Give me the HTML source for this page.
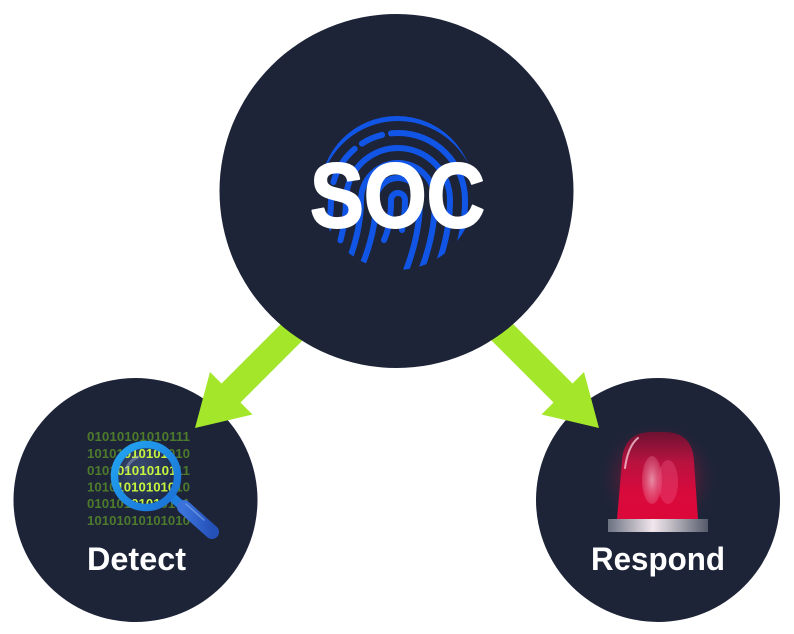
<!DOCTYPE html>
<html><head><meta charset="utf-8">
<style>
html,body{margin:0;padding:0;background:#fff;}
svg{display:block;}
</style></head>
<body>
<svg width="794" height="634" viewBox="0 0 794 634" xmlns="http://www.w3.org/2000/svg">
<defs>
  <clipPath id="fpclip"><circle cx="397" cy="193" r="77"/></clipPath>
  <clipPath id="lensclip"><circle cx="146" cy="476" r="28"/></clipPath>
  <linearGradient id="ring" x1="0" y1="0" x2="1" y2="1">
    <stop offset="0" stop-color="#23a6f2"/>
    <stop offset="1" stop-color="#1a6fd4"/>
  </linearGradient>
  <linearGradient id="handle" x1="0" y1="0" x2="1" y2="0">
    <stop offset="0" stop-color="#3b73db"/>
    <stop offset="1" stop-color="#2451b8"/>
  </linearGradient>
  <radialGradient id="glass" cx="0.4" cy="0.35" r="0.7">
    <stop offset="0" stop-color="#3a4a70"/>
    <stop offset="1" stop-color="#1c2845"/>
  </radialGradient>
  <linearGradient id="dome" x1="0" y1="0" x2="0" y2="1">
    <stop offset="0" stop-color="#6e1232"/>
    <stop offset="0.35" stop-color="#b8123f"/>
    <stop offset="0.7" stop-color="#d80a3c"/>
    <stop offset="1" stop-color="#dc083a"/>
  </linearGradient>
  <radialGradient id="glow" cx="0.5" cy="0.5" r="0.5">
    <stop offset="0" stop-color="#e0103f" stop-opacity="0.55"/>
    <stop offset="0.6" stop-color="#c0103a" stop-opacity="0.25"/>
    <stop offset="1" stop-color="#1d2438" stop-opacity="0"/>
  </radialGradient>
  <radialGradient id="hl" cx="0.5" cy="0.5" r="0.5">
    <stop offset="0" stop-color="#f6c8d6" stop-opacity="0.9"/>
    <stop offset="1" stop-color="#f08aa8" stop-opacity="0.35"/>
  </radialGradient>
  <linearGradient id="base" x1="0" y1="0" x2="1" y2="0">
    <stop offset="0" stop-color="#6b7282"/>
    <stop offset="0.45" stop-color="#f2e6ec"/>
    <stop offset="0.6" stop-color="#c9c4cc"/>
    <stop offset="1" stop-color="#545a6a"/>
  </linearGradient>
</defs>

<!-- small circles -->
<circle cx="135.5" cy="500" r="122" fill="#1d2438"/>
<circle cx="658" cy="500" r="122" fill="#1d2438"/>

<!-- arrows (over small circles, under main circle) -->
<polygon fill="#a3e62a" points="302.5,302.5 221.5,383.5 210,372 195,428 252.5,414.5 240.5,402.5 321.5,321.5"/>
<polygon fill="#a3e62a" points="491.5,302.5 572.5,383.5 584,372 599,428 541.5,414.5 553.5,402.5 472.5,321.5"/>

<!-- main circle -->
<circle cx="396.5" cy="191" r="177" fill="#1d2438"/>

<!-- fingerprint -->
<g clip-path="url(#fpclip)" fill="none" stroke="#1155e6" stroke-width="6" stroke-linecap="round">
  <path d="M384,240 Q391,225 391,200 A7,7 0 0 1 405,200 Q405,215 402,230"/>
  <path d="M353,285 Q376,240 376,200 A22,22 0 0 1 420,200 Q420,240 400,285"/>
  <path d="M338,285 Q361,240 361,200 A37,37 0 0 1 435,200 Q435,240 415,285"/>
  <path d="M323,285 Q346,240 346,200 A52,52 0 0 1 450,200 Q450,240 430,285" stroke-dasharray="40 8 300"/>
  <path d="M308,285 Q331,240 331,200 A67,67 0 0 1 465,200 Q465,240 448,275" stroke-dasharray="30 9 22 9 28 9 40 9 22 9 300"/>
  <path d="M293,285 Q316,240 316,200 A82,82 0 0 1 480,200" stroke-dasharray="60 10 25 10 300"/>
  <path d="M325,240 Q310,265 300,285"/>
</g>

<!-- SOC text -->
<text x="310" y="227" font-family="Liberation Sans, sans-serif" font-weight="bold" font-size="92" fill="#ffffff" stroke="#ffffff" stroke-width="2" stroke-linejoin="round" textLength="175" lengthAdjust="spacingAndGlyphs">SOC</text>

<!-- binary text -->
<g font-family="Liberation Sans, sans-serif" font-weight="bold" font-size="13" fill="#4d7a2c">
  <text x="87" y="441" textLength="103" lengthAdjust="spacingAndGlyphs">01010101010111</text>
  <text x="87" y="458" textLength="103" lengthAdjust="spacingAndGlyphs">10101010101010</text>
  <text x="87" y="475" textLength="103" lengthAdjust="spacingAndGlyphs">01010101010111</text>
  <text x="87" y="491.5" textLength="103" lengthAdjust="spacingAndGlyphs">10101010101010</text>
  <text x="87" y="508" textLength="103" lengthAdjust="spacingAndGlyphs">01010101010101</text>
  <text x="87" y="525" textLength="103" lengthAdjust="spacingAndGlyphs">10101010101010</text>
</g>

<!-- magnifier -->
<line x1="172" y1="497" x2="182" y2="506" stroke="#1d7ee0" stroke-width="9"/>
<line x1="184" y1="507" x2="212" y2="532" stroke="url(#handle)" stroke-width="14" stroke-linecap="round"/>
<line x1="186" y1="504" x2="204" y2="520" stroke="#7ea6ee" stroke-width="1.5" stroke-linecap="round" opacity="0.7"/>
<circle cx="146" cy="476" r="28" fill="url(#glass)"/>
<g clip-path="url(#lensclip)" font-family="Liberation Sans, sans-serif" font-weight="bold" font-size="13" fill="#c6f33e">
  <text x="87" y="458" textLength="103" lengthAdjust="spacingAndGlyphs">10101010101010</text>
  <text x="87" y="475" textLength="103" lengthAdjust="spacingAndGlyphs">01010101010111</text>
  <text x="87" y="491.5" textLength="103" lengthAdjust="spacingAndGlyphs">10101010101010</text>
  <text x="87" y="508" textLength="103" lengthAdjust="spacingAndGlyphs">01010101010101</text>
</g>
<path d="M126,470 A21,21 0 0 1 138,457" stroke="#9fb0d0" stroke-width="3" fill="none" opacity="0.45" stroke-linecap="round"/>
<circle cx="146" cy="476" r="31.5" fill="none" stroke="url(#ring)" stroke-width="7.5"/>

<!-- labels -->
<text x="87" y="570" font-family="Liberation Sans, sans-serif" font-weight="bold" font-size="32" fill="#ffffff" textLength="99" lengthAdjust="spacingAndGlyphs">Detect</text>
<text x="591" y="570" font-family="Liberation Sans, sans-serif" font-weight="bold" font-size="32" fill="#ffffff" textLength="134" lengthAdjust="spacingAndGlyphs">Respond</text>

<!-- siren -->
<ellipse cx="658" cy="478" rx="62" ry="58" fill="url(#glow)"/>
<path d="M617,519 L622,462 Q623,432 652,432 L664,432 Q693,432 694,462 L698,519 Z" fill="url(#dome)"/>
<ellipse cx="652" cy="480" rx="10" ry="24" fill="url(#hl)" opacity="0.75"/>
<ellipse cx="668" cy="482" rx="10" ry="22" fill="#f05a86" opacity="0.35"/>
<path d="M638,438 Q628,446 625,468" stroke="#f4c6d4" stroke-width="2" fill="none" opacity="0.8" stroke-linecap="round"/>
<rect x="608" y="519" width="100" height="13" fill="url(#base)"/>
</svg>
</body></html>
